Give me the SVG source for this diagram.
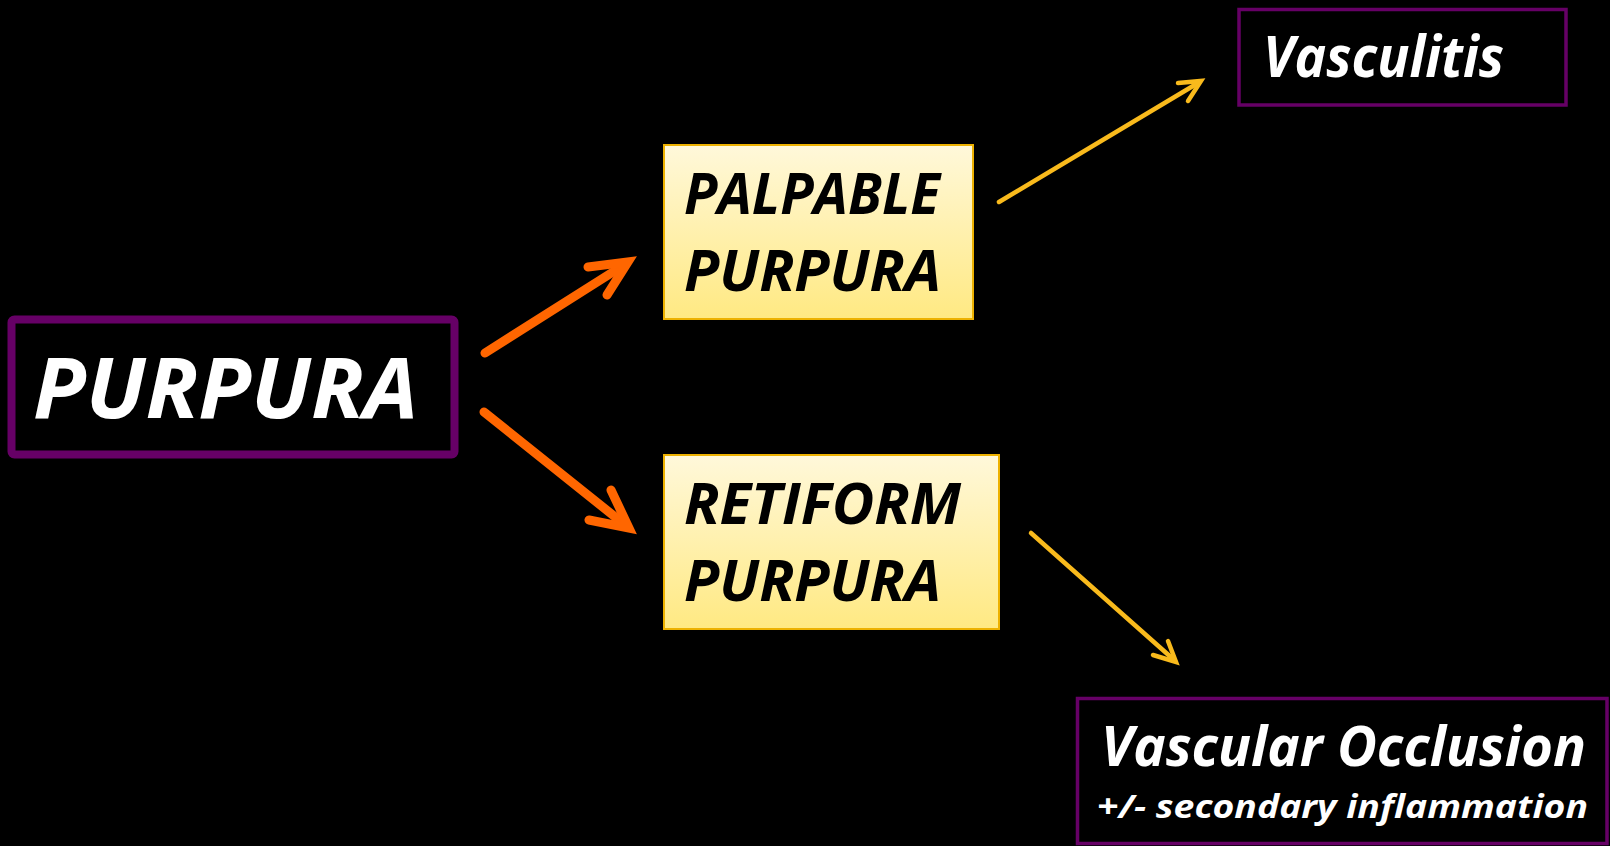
<svg xmlns="http://www.w3.org/2000/svg" width="1610" height="846" viewBox="0 0 1610 846">
<defs>
<linearGradient id="yg" x1="0" y1="0" x2="0" y2="1">
<stop offset="0" stop-color="#FFF8DA"/>
<stop offset="1" stop-color="#FFE982"/>
</linearGradient>
<style>
.t{font-family:"Open Sans","Noto Sans","Liberation Sans",sans-serif;font-weight:bold;font-style:italic}
.w{fill:#FFFFFF}
.k{fill:#000000}
.pb{fill:#000000;stroke:#660066}
.yb{fill:url(#yg);stroke:#EDB100;stroke-width:2}
.oa{fill:none;stroke:#FF6600;stroke-width:9;stroke-linecap:round;stroke-linejoin:miter}
.ya{fill:none;stroke:#F9BA1C;stroke-width:4.5;stroke-linecap:round;stroke-linejoin:miter}
</style>
</defs>
<rect width="1610" height="846" fill="#000000"/>
<g id="connectors">
<path class="oa" d="M485,353 L624,265"/>
<path class="oa" d="M588,267 L628,262 L607,295"/>
<path class="oa" d="M484,412 L624,524"/>
<path class="oa" d="M589,520 L629,528 L611,490"/>
<path class="ya" d="M999,202 L1198,83"/>
<path class="ya" d="M1178,83 L1201,81 L1188,101"/>
<path class="ya" d="M1031,533 L1173,659"/>
<path class="ya" d="M1153,655 L1176,662 L1168,641"/>
</g>
<g id="purpura">
<rect class="pb" x="11.5" y="319.5" width="443" height="135" rx="3" stroke-width="8"/>
<text class="t w" x="33" y="418" font-size="85" textLength="385" lengthAdjust="spacingAndGlyphs">PURPURA</text>
</g>
<g id="palpable">
<rect class="yb" x="664" y="145" width="309" height="174"/>
<text class="t k" x="684" y="214" font-size="58" textLength="256" lengthAdjust="spacingAndGlyphs">PALPABLE</text>
<text class="t k" x="684" y="291" font-size="58" textLength="257" lengthAdjust="spacingAndGlyphs">PURPURA</text>
</g>
<g id="retiform">
<rect class="yb" x="664" y="455" width="335" height="174"/>
<text class="t k" x="684" y="524" font-size="58" textLength="277" lengthAdjust="spacingAndGlyphs">RETIFORM</text>
<text class="t k" x="684" y="601" font-size="58" textLength="257" lengthAdjust="spacingAndGlyphs">PURPURA</text>
</g>
<g id="vasculitis">
<rect class="pb" x="1239" y="9.5" width="327" height="95.5" stroke-width="3.5"/>
<text class="t w" x="1263" y="77" font-size="57" textLength="241" lengthAdjust="spacingAndGlyphs">Vasculitis</text>
</g>
<g id="occlusion">
<rect class="pb" x="1077.5" y="698.5" width="529.5" height="145" stroke-width="3.5"/>
<text class="t w" x="1101" y="766" font-size="56" textLength="485" lengthAdjust="spacingAndGlyphs">Vascular Occlusion</text>
<text class="t w" x="1097" y="818" font-size="33" textLength="491" lengthAdjust="spacingAndGlyphs">+/- secondary inflammation</text>
</g>
</svg>
